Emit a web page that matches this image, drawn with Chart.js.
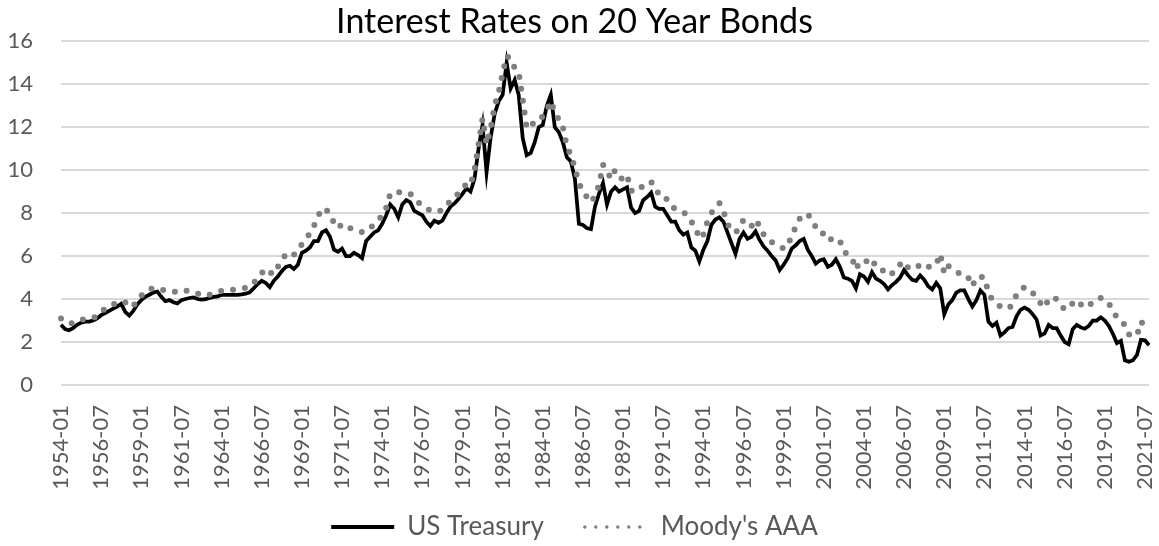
<!DOCTYPE html>
<html>
<head>
<meta charset="utf-8">
<title>Interest Rates on 20 Year Bonds</title>
<script src="https://cdn.jsdelivr.net/npm/chart.js@4.4.0/dist/chart.umd.min.js"></script>
<style>
  html, body { margin: 0; padding: 0; background: #fff; }
</style>
</head>
<body>
<canvas id="chart" width="1159" height="546"></canvas>
<script>
// Quarterly readings (Jan / Apr / Jul / Oct), 1954-01 .. 2021-10
const FIRST_YEAR = 1954;
const LAST_YEAR = 2021;
const quarterMonths = ['01', '04', '07', '10'];
const periods = [];
for (let y = FIRST_YEAR; y <= LAST_YEAR; y++) {
  quarterMonths.forEach((m) => periods.push(`${y}-${m}`));
}

// a tick label every 30 months = every 10th quarter
const LABEL_EVERY = 10;

const treasury20 = [
  2.80, 2.60, 2.55, 2.65,   // 1954
  2.80, 2.90, 2.95, 2.95,
  3.00, 3.10, 3.25, 3.35,
  3.45, 3.55, 3.65, 3.78,
  3.40, 3.23, 3.45, 3.75,
  3.95, 4.10, 4.20, 4.30,   // 1959
  4.35, 4.10, 3.90, 3.95,
  3.85, 3.80, 3.95, 4.00,
  4.05, 4.08, 4.00, 3.97,
  4.00, 4.05, 4.10, 4.12,
  4.20, 4.20, 4.20, 4.20,   // 1964
  4.20, 4.22, 4.25, 4.31,
  4.50, 4.70, 4.85, 4.75,
  4.55, 4.85, 5.05, 5.30,
  5.50, 5.55, 5.40, 5.60,
  6.15, 6.25, 6.40, 6.70,   // 1969
  6.70, 7.10, 7.20, 6.90,
  6.30, 6.20, 6.35, 6.00,
  6.00, 6.15, 6.05, 5.90,
  6.70, 6.90, 7.10, 7.20,
  7.50, 7.90, 8.40, 8.20,   // 1974
  7.80, 8.40, 8.60, 8.50,
  8.10, 8.00, 7.90, 7.60,
  7.40, 7.65, 7.55, 7.65,
  8.00, 8.30, 8.45, 8.65,
  8.90, 9.15, 9.00, 9.60,   // 1979
  11.00, 12.10, 9.90, 11.50,
  12.60, 13.20, 13.50, 15.00,
  13.80, 14.20, 13.50, 11.50,
  10.70, 10.80, 11.30, 12.00,
  12.10, 13.00, 13.50, 12.00, // 1984
  11.77, 11.30, 10.60, 10.40,
  9.60, 7.50, 7.45, 7.30,
  7.25, 8.30, 8.90, 9.40,
  8.40, 9.00, 9.20, 9.00,
  9.10, 9.20, 8.25, 8.00,   // 1989
  8.10, 8.60, 8.75, 8.95,
  8.30, 8.20, 8.20, 7.90,
  7.60, 7.60, 7.20, 7.00,
  7.10, 6.40, 6.25, 5.75,
  6.30, 6.70, 7.45, 7.70,   // 1994
  7.80, 7.60, 7.10, 6.60,
  6.10, 6.80, 7.10, 6.80,
  6.90, 7.15, 6.75, 6.45,
  6.25, 6.00, 5.80, 5.35,
  5.60, 5.90, 6.35, 6.50,   // 1999
  6.70, 6.80, 6.30, 6.00,
  5.65, 5.80, 5.85, 5.50,
  5.60, 5.85, 5.50, 5.00,
  4.95, 4.85, 4.50, 5.15,
  5.05, 4.80, 5.25, 4.95,   // 2004
  4.85, 4.70, 4.45, 4.65,
  4.80, 5.00, 5.35, 5.10,
  4.90, 4.85, 5.10, 4.90,
  4.60, 4.45, 4.75, 4.50,
  3.30, 3.75, 3.95, 4.30,   // 2009
  4.40, 4.40, 4.00, 3.65,
  3.95, 4.40, 4.20, 2.95,
  2.75, 2.90, 2.30, 2.45,
  2.65, 2.70, 3.20, 3.50,
  3.60, 3.50, 3.30, 3.05,   // 2014
  2.30, 2.40, 2.80, 2.65,
  2.65, 2.30, 2.00, 1.90,
  2.60, 2.80, 2.68, 2.62,
  2.75, 3.00, 3.00, 3.15,
  3.00, 2.75, 2.38, 1.95,   // 2019
  2.05, 1.15, 1.08, 1.15,
  1.40, 2.10, 2.08, 1.85,
];

const moodysAAA = [
  3.09, 2.95, 2.87, 2.87,   // 1954
  2.95, 3.02, 3.09, 3.12,
  3.12, 3.20, 3.40, 3.55,
  3.65, 3.75, 3.85, 3.90,
  3.85, 3.65, 3.65, 4.00,
  4.15, 4.35, 4.45, 4.50,   // 1959
  4.50, 4.45, 4.38, 4.35,
  4.33, 4.35, 4.42, 4.40,
  4.35, 4.28, 4.25, 4.20,
  4.15, 4.20, 4.27, 4.33,
  4.38, 4.40, 4.42, 4.44,   // 1964
  4.46, 4.50, 4.52, 4.57,
  4.75, 4.95, 5.20, 5.41,
  5.25, 5.15, 5.50, 5.75,
  6.10, 6.15, 6.05, 6.30,
  6.55, 6.80, 7.05, 7.40,   // 1969
  7.85, 8.20, 8.20, 7.90,
  7.55, 7.30, 7.50, 7.40,
  7.30, 7.25, 7.20, 7.12,
  7.15, 7.30, 7.49, 7.70,
  7.85, 8.25, 8.90, 9.00,   // 1974
  8.97, 8.97, 8.93, 8.90,
  8.70, 8.49, 8.40, 8.25,
  8.10, 8.08, 8.08, 8.15,
  8.30, 8.60, 8.75, 8.90,
  9.15, 9.35, 9.30, 10.00,  // 1979
  11.20, 12.40, 11.20, 11.90,
  13.00, 13.60, 14.50, 15.30,
  15.20, 14.75, 14.57, 13.30,
  11.95, 12.00, 12.30, 12.35,
  12.50, 12.80, 13.20, 12.70, // 1984
  12.35, 12.00, 11.10, 10.70,
  10.10, 9.40, 9.00, 8.75,
  8.50, 8.80, 9.30, 10.25,
  9.95, 9.60, 10.00, 9.70,
  9.55, 9.75, 9.05, 9.00,   // 1989
  9.05, 9.30, 9.40, 9.46,
  9.10, 8.88, 8.88, 8.60,
  8.30, 8.20, 8.10, 8.05,
  7.90, 7.60, 7.35, 6.80,
  7.00, 7.60, 8.00, 8.30,   // 1994
  8.46, 8.10, 7.50, 7.20,
  7.10, 7.30, 7.69, 7.55,
  7.40, 7.70, 7.40, 7.00,
  6.75, 6.65, 6.55, 6.45,
  6.35, 6.45, 6.97, 7.35,   // 1999
  7.74, 7.95, 7.95, 7.70,
  7.35, 7.05, 7.05, 7.08,
  6.70, 6.70, 6.72, 6.23,
  6.05, 5.92, 5.38, 5.75,
  5.70, 5.80, 5.90, 5.46,   // 2004
  5.40, 5.30, 5.10, 5.20,
  5.30, 5.60, 5.75, 5.45,
  5.40, 5.46, 5.60, 5.65,
  5.50, 5.50, 5.60, 6.10,
  5.20, 5.54, 5.40, 5.30,   // 2009
  5.15, 5.15, 5.00, 4.60,
  5.00, 5.05, 5.00, 4.30,
  3.95, 3.80, 3.65, 3.60,
  3.55, 3.75, 4.20, 4.45,
  4.55, 4.50, 4.30, 4.05,   // 2014
  3.80, 3.60, 4.00, 4.10,
  4.00, 3.75, 3.50, 3.60,
  3.80, 3.95, 3.75, 3.62,
  3.65, 3.90, 3.95, 4.05,
  4.00, 3.80, 3.45, 3.15,   // 2019
  2.95, 2.80, 2.35, 2.30,
  2.30, 2.95, 2.75, 2.65,
];

const yTicks = { min: 0, max: 16, step: 2 };

const TEXT_GREY = '#595959';
const GRID_GREY = '#d9d9d9';
Chart.defaults.font.family = 'Lato, "Open Sans", sans-serif';

new Chart(document.getElementById('chart'), {
  type: 'line',
  data: {
    labels: periods,
    datasets: [
      {
        label: 'US Treasury',
        data: treasury20,
        borderColor: '#000000',
        borderWidth: 3.75,
        pointRadius: 0,
        tension: 0,
        order: 2,
      },
      {
        label: "Moody's AAA",
        data: moodysAAA,
        borderColor: '#7f7f7f',
        borderWidth: 6,
        borderDash: [0, 12],
        borderCapStyle: 'round',
        pointRadius: 0,
        tension: 0,
        order: 1,
      },
    ],
  },
  options: {
    responsive: false,
    animation: false,
    devicePixelRatio: 1,
    layout: { padding: { left: 0, right: 10, top: 0, bottom: -4 } },
    plugins: {
      title: {
        display: true,
        text: 'Interest Rates on 20 Year Bonds',
        color: '#000000',
        font: { size: 34, weight: 'normal', lineHeight: 1.12 },
        padding: { top: 0, bottom: 0 },
      },
      legend: {
        position: 'bottom',
        labels: {
          color: TEXT_GREY,
          font: { size: 26 },
          padding: 41,
          usePointStyle: true,
          pointStyleWidth: 63,
          boxHeight: 10,
          generateLabels: (chart) => chart.data.datasets.map((ds, i) => ({
            text: ds.label,
            datasetIndex: i,
            pointStyle: 'line',
            strokeStyle: ds.borderColor,
            fillStyle: ds.borderColor,
            fontColor: TEXT_GREY,
            lineWidth: i === 0 ? 4 : 3.5,
            lineDash: i === 0 ? [] : [0, 11],
            lineCap: i === 0 ? 'butt' : 'round',
            hidden: false,
          })),
        },
      },
      tooltip: { enabled: false },
    },
    scales: {
      x: {
        type: 'category',
        offset: false,
        grid: { display: false, drawTicks: false },
        border: { display: false },
        ticks: {
          autoSkip: false,
          minRotation: 90,
          maxRotation: 90,
          padding: 20,
          color: TEXT_GREY,
          font: { size: 22 },
          callback: (value, index) => (index % LABEL_EVERY === 0 ? periods[index] : null),
        },
        afterFit: (scale) => {
          scale.height = 88;
          scale.paddingLeft = 0;
          scale.paddingRight = 0;
          // rotated labels run past the shortened axis box; don't clip them
          scale._computeLabelArea = () => undefined;
        },
      },
      y: {
        min: yTicks.min,
        max: yTicks.max,
        grid: { color: GRID_GREY, lineWidth: 2, drawTicks: false },
        border: { display: false },
        ticks: {
          stepSize: yTicks.step,
          padding: 28,
          color: TEXT_GREY,
          font: { size: 22 },
        },
        afterFit: (scale) => { scale.width = 61; },
      },
    },
  },
});
</script>
</body>
</html>
